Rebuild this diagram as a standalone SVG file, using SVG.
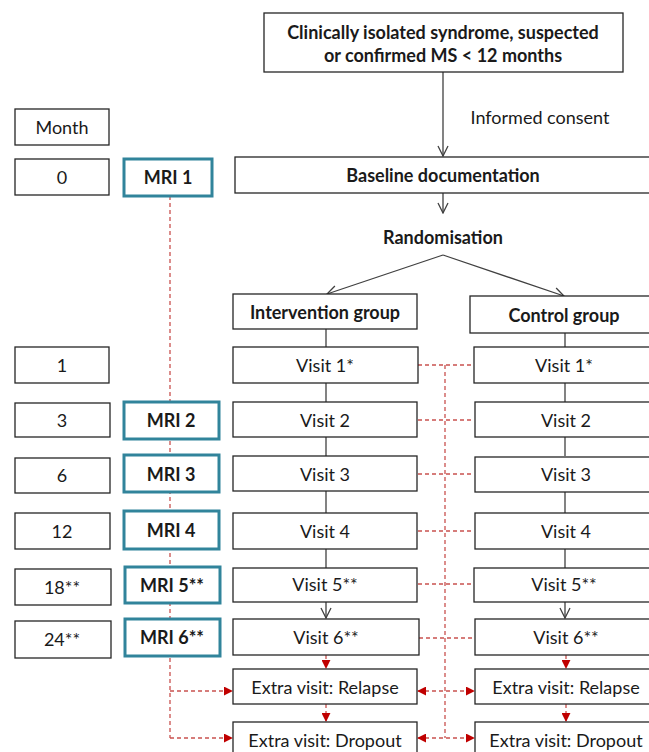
<svg xmlns="http://www.w3.org/2000/svg" width="649" height="752" viewBox="0 0 649 752">
<defs>
<style>
.box{fill:#fff;stroke:#262626;stroke-width:1.3}
.mri{fill:#fff;stroke:#31849b;stroke-width:3}
.t{font-family:Lato,"Open Sans","Liberation Sans",sans-serif;font-size:18px;fill:#1a1a1a;text-anchor:middle;dominant-baseline:central}
.b{font-weight:bold}
.ln{stroke:#404040;stroke-width:1.3;fill:none}
.rd{stroke:#c9514f;stroke-width:1.3;stroke-dasharray:4 3;fill:none}
</style>
<marker id="open" viewBox="0 0 12 12" refX="11" refY="6" markerWidth="12" markerHeight="12" markerUnits="userSpaceOnUse" orient="auto">
<path d="M1,1 L11,6 L1,11" fill="none" stroke="#404040" stroke-width="1.3"/>
</marker>
<marker id="red" viewBox="0 0 10 10" refX="9" refY="5" markerWidth="9" markerHeight="9" markerUnits="userSpaceOnUse" orient="auto-start-reverse">
<path d="M0,0 L10,5 L0,10 Z" fill="#c00000"/>
</marker>
</defs>
<rect width="649" height="752" fill="#fff"/>

<g id="connectors">
<line class="ln" x1="443" y1="72" x2="443" y2="156" marker-end="url(#open)"/>
<line class="ln" x1="443" y1="193" x2="443" y2="213" marker-end="url(#open)"/>
<line class="ln" x1="443" y1="255" x2="327" y2="294" marker-end="url(#open)"/>
<line class="ln" x1="443" y1="255" x2="564" y2="296" marker-end="url(#open)"/>
<line class="ln" x1="326" y1="329" x2="326" y2="347"/>
<line class="ln" x1="326" y1="383" x2="326" y2="402"/>
<line class="ln" x1="326" y1="437" x2="326" y2="456"/>
<line class="ln" x1="326" y1="491" x2="326" y2="513"/>
<line class="ln" x1="326" y1="549" x2="326" y2="568"/>
<line class="ln" x1="326" y1="602" x2="326" y2="618" marker-end="url(#open)"/>
<line class="ln" x1="565" y1="333" x2="565" y2="347"/>
<line class="ln" x1="565" y1="383" x2="565" y2="402"/>
<line class="ln" x1="565" y1="437" x2="565" y2="456"/>
<line class="ln" x1="565" y1="491" x2="565" y2="513"/>
<line class="ln" x1="565" y1="549" x2="565" y2="568"/>
<line class="ln" x1="565" y1="602" x2="565" y2="618" marker-end="url(#open)"/>
<line class="rd" x1="326" y1="655" x2="326" y2="668" marker-end="url(#red)"/>
<line class="rd" x1="326" y1="704" x2="326" y2="721" marker-end="url(#red)"/>
<line class="rd" x1="566" y1="655" x2="566" y2="668" marker-end="url(#red)"/>
<line class="rd" x1="566" y1="704" x2="566" y2="721" marker-end="url(#red)"/>
<line class="rd" x1="445" y1="365" x2="445" y2="738"/>
<line class="rd" x1="418" y1="365" x2="474" y2="365"/>
<line class="rd" x1="418" y1="420" x2="474" y2="420"/>
<line class="rd" x1="418" y1="474" x2="474" y2="474"/>
<line class="rd" x1="418" y1="531" x2="474" y2="531"/>
<line class="rd" x1="418" y1="584" x2="474" y2="584"/>
<line class="rd" x1="419" y1="638" x2="475" y2="638"/>
<line class="rd" x1="418" y1="691" x2="474" y2="691" marker-start="url(#red)" marker-end="url(#red)"/>
<line class="rd" x1="418" y1="738" x2="474" y2="738" marker-start="url(#red)" marker-end="url(#red)"/>
<line class="rd" x1="170" y1="196" x2="170" y2="738"/>
<line class="rd" x1="170" y1="691" x2="232" y2="691" marker-end="url(#red)"/>
<line class="rd" x1="170" y1="738" x2="232" y2="738" marker-end="url(#red)"/>
</g>

<g id="start"><rect class="box" x="264" y="13" width="359" height="59"/>
<text class="t b" x="443" y="32">Clinically isolated syndrome, suspected</text>
<text class="t b" x="443" y="55">or confirmed MS &lt; 12 months</text></g>
<text id="consent" class="t" x="540" y="117">Informed consent</text>

<g id="month"><rect class="box" x="15" y="109" width="94" height="36"/><text class="t" x="62" y="127">Month</text></g>
<g id="m0"><rect class="box" x="15" y="159" width="94" height="36"/><text class="t" x="62" y="177">0</text></g>
<g id="m1"><rect class="box" x="15" y="347" width="94" height="36"/><text class="t" x="62" y="365">1</text></g>
<g id="m3"><rect class="box" x="15" y="403" width="95" height="34"/><text class="t" x="62" y="420">3</text></g>
<g id="m6"><rect class="box" x="15" y="458" width="95" height="35"/><text class="t" x="62" y="475">6</text></g>
<g id="m12"><rect class="box" x="15" y="513" width="95" height="36"/><text class="t" x="62" y="531">12</text></g>
<g id="m18"><rect class="box" x="15" y="569" width="96" height="36"/><text class="t" x="62" y="587">18**</text></g>
<g id="m24"><rect class="box" x="15" y="621" width="96" height="37"/><text class="t" x="62" y="639">24**</text></g>

<g id="mri1"><rect class="mri" x="124" y="159" width="88" height="37"/><text class="t b" x="168" y="177">MRI 1</text></g>
<g id="mri2"><rect class="mri" x="124" y="402" width="95" height="37"/><text class="t b" x="171" y="420">MRI 2</text></g>
<g id="mri3"><rect class="mri" x="124" y="455" width="95" height="37"/><text class="t b" x="171" y="474">MRI 3</text></g>
<g id="mri4"><rect class="mri" x="124" y="511" width="95" height="38"/><text class="t b" x="171" y="530">MRI 4</text></g>
<g id="mri5"><rect class="mri" x="125" y="567" width="95" height="36"/><text class="t b" x="172" y="585">MRI 5**</text></g>
<g id="mri6"><rect class="mri" x="125" y="619" width="95" height="37"/><text class="t b" x="172" y="637">MRI 6**</text></g>

<g id="baseline"><rect class="box" x="235" y="157" width="425" height="36"/><text class="t b" x="443" y="175">Baseline documentation</text></g>
<text id="random" class="t b" x="443" y="237">Randomisation</text>
<g id="intervention"><rect class="box" x="233" y="294" width="184" height="35"/><text class="t b" x="325" y="312">Intervention group</text></g>
<g id="control"><rect class="box" x="470" y="296" width="190" height="37"/><text class="t b" x="564" y="315">Control group</text></g>

<g id="iv1"><rect class="box" x="233" y="347" width="185" height="36"/><text class="t" x="325" y="365">Visit 1*</text></g>
<g id="iv2"><rect class="box" x="233" y="402" width="184" height="35"/><text class="t" x="325" y="420">Visit 2</text></g>
<g id="iv3"><rect class="box" x="233" y="456" width="184" height="35"/><text class="t" x="325" y="474">Visit 3</text></g>
<g id="iv4"><rect class="box" x="233" y="513" width="184" height="36"/><text class="t" x="325" y="531">Visit 4</text></g>
<g id="iv5"><rect class="box" x="233" y="568" width="184" height="34"/><text class="t" x="325" y="584">Visit 5**</text></g>
<g id="iv6"><rect class="box" x="233" y="619" width="186" height="36"/><text class="t" x="326" y="637">Visit 6**</text></g>
<g id="irel"><rect class="box" x="233" y="669" width="184" height="35"/><text class="t" x="325" y="687">Extra visit: Relapse</text></g>
<g id="idrop"><rect class="box" x="233" y="722" width="184" height="40"/><text class="t" x="325" y="740">Extra visit: Dropout</text></g>

<g id="cv1"><rect class="box" x="474" y="347" width="186" height="36"/><text class="t" x="564" y="365">Visit 1*</text></g>
<g id="cv2"><rect class="box" x="475" y="402" width="185" height="35"/><text class="t" x="566" y="420">Visit 2</text></g>
<g id="cv3"><rect class="box" x="475" y="457" width="185" height="35"/><text class="t" x="566" y="474">Visit 3</text></g>
<g id="cv4"><rect class="box" x="475" y="513" width="185" height="36"/><text class="t" x="566" y="531">Visit 4</text></g>
<g id="cv5"><rect class="box" x="474" y="568" width="186" height="34"/><text class="t" x="564" y="584">Visit 5**</text></g>
<g id="cv6"><rect class="box" x="475" y="619" width="185" height="36"/><text class="t" x="566" y="637">Visit 6**</text></g>
<g id="crel"><rect class="box" x="475" y="669" width="185" height="35"/><text class="t" x="566" y="687">Extra visit: Relapse</text></g>
<g id="cdrop"><rect class="box" x="475" y="722" width="185" height="40"/><text class="t" x="566" y="740">Extra visit: Dropout</text></g>
</svg>
